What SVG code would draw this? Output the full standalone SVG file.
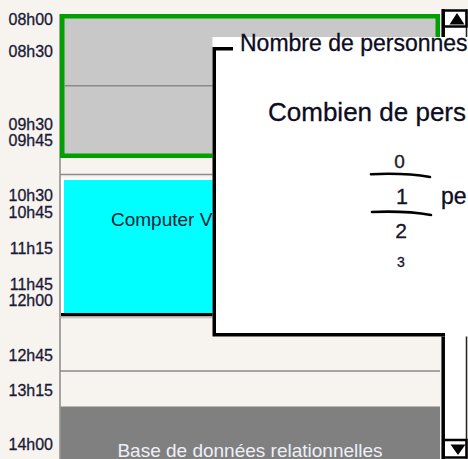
<svg xmlns="http://www.w3.org/2000/svg" width="468" height="459" viewBox="0 0 468 459">
<style>
.lbl{font-family:"Liberation Sans",Arial,sans-serif;font-size:16px;fill:#1a1a36;stroke:#1a1a36;stroke-width:0.3;text-anchor:end}
.sep{stroke:#8a8a8a;stroke-width:1.5;fill:none}
.ev{font-family:"Liberation Sans",Arial,sans-serif;font-size:19px}
.pop{font-family:"Liberation Sans",Arial,sans-serif;fill:#0c0c22;stroke:#0c0c22;stroke-width:0.3}
.dig{font-family:"Liberation Sans",Arial,sans-serif;fill:#14142a;stroke:#14142a;stroke-width:0.3;text-anchor:middle}
.blk{stroke:#000;fill:none}
</style>
<rect x="0" y="0" width="468" height="459" fill="#f7f3ef"/>
<g id="labels">
<text class="lbl" x="53" y="24.5">08h00</text>
<text class="lbl" x="53" y="57">08h30</text>
<text class="lbl" x="53" y="130">09h30</text>
<text class="lbl" x="53" y="146">09h45</text>
<text class="lbl" x="53" y="201">10h30</text>
<text class="lbl" x="53" y="218">10h45</text>
<text class="lbl" x="53" y="254">11h15</text>
<text class="lbl" x="53" y="290">11h45</text>
<text class="lbl" x="53" y="306">12h00</text>
<text class="lbl" x="53" y="361">12h45</text>
<text class="lbl" x="53" y="396">13h15</text>
<text class="lbl" x="53" y="450">14h00</text>
</g>
<g id="grid">
<line class="sep" x1="60" y1="14" x2="60" y2="459"/>
<line class="sep" x1="60" y1="174.5" x2="440" y2="174.5"/>
<line class="sep" x1="60" y1="371" x2="440" y2="371"/>
<line x1="61" y1="317.8" x2="440" y2="317.8" stroke="#b8b4b0" stroke-width="1"/>
</g>
<g id="slot-green">
<rect x="62.25" y="16.25" width="375.5" height="139.5" fill="#c8c8c8" stroke="#00a000" stroke-width="4.5"/>
<line x1="64.5" y1="85.8" x2="435.5" y2="85.8" stroke="#8a8a8a" stroke-width="1.5"/>
</g>
<g id="slot-computer-vision">
<rect x="61" y="178.3" width="379" height="137.5" fill="#ffffff"/>
<rect x="64" y="180" width="376" height="133" fill="#00ffff"/>
<rect x="61" y="313" width="379" height="3.3" fill="#000"/>
<text class="ev" x="111" y="226" fill="#0e2230">Computer V</text>
</g>
<g id="slot-base-de-donnees">
<rect x="60.5" y="406.5" width="379.5" height="53" fill="#808080"/>
<text class="ev" x="250" y="456.5" text-anchor="middle" fill="#eef0f8">Base de données relationnelles</text>
</g>
<g id="scrollbar">
<rect x="445" y="10" width="21" height="449" fill="#ffffff"/>
<line x1="443.2" y1="9" x2="443.2" y2="459" stroke="#000" stroke-width="3.5"/>
<line x1="466.5" y1="9" x2="466.5" y2="459" stroke="#222" stroke-width="1.5"/>
<rect x="443.2" y="10.5" width="23.3" height="16" class="blk" stroke-width="2.5" fill="#fff"/>
<polygon points="449.5,24.5 464.5,24.5 457,13" fill="#000"/>
<rect x="443.2" y="440" width="23.3" height="17.5" class="blk" stroke-width="2.5" fill="#fff"/>
<polygon points="450.5,444.5 465.5,444.5 458,455" fill="#000"/>
</g>
<g id="popup">
<rect x="212.5" y="37" width="255.5" height="299.5" fill="#ffffff"/>
<path d="M233,48.7 H214.25 V334.75 H445" class="blk" stroke-width="3.5"/>
<text class="pop" x="240" y="50.5" font-size="23">Nombre de personnes</text>
<text class="pop" x="268" y="120.5" font-size="26">Combien de pers</text>
<text class="dig" x="399.5" y="167.5" font-size="19">0</text>
<path d="M371,174.2 Q405,172.6 430,177" class="blk" stroke-width="2.6" stroke-linecap="round"/>
<text class="dig" x="402" y="204" font-size="21.5">1</text>
<path d="M372,212 Q406,210.6 431,215" class="blk" stroke-width="2.6" stroke-linecap="round"/>
<text class="dig" x="401" y="237.5" font-size="21">2</text>
<text class="dig" x="401" y="267" font-size="14">3</text>
<text class="pop" x="441" y="203.5" font-size="23">pe</text>
</g>
</svg>
